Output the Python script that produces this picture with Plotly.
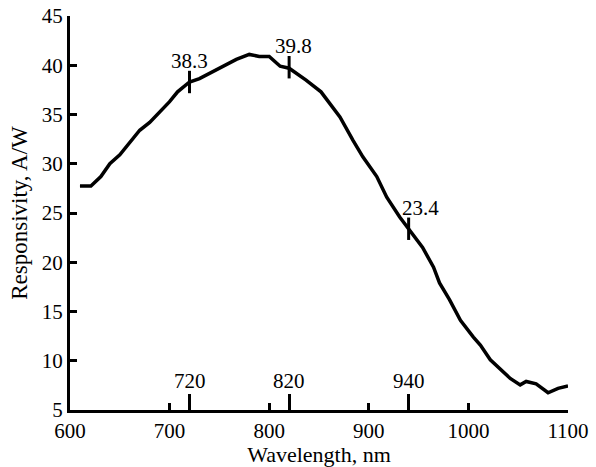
import plotly.graph_objects as go

wavelength = [610, 621, 631, 640, 650, 660, 670, 680, 690, 700, 708, 720, 730, 740, 754, 767,
              780, 790, 800, 811, 820, 837, 852, 871, 884, 894, 908, 918, 931, 940, 954, 965,
              971, 981, 992, 1005, 1012, 1022, 1032, 1042, 1052, 1058, 1068, 1080, 1090, 1100]
responsivity = [27.75, 27.75, 28.7, 30.0, 30.9, 32.2, 33.4, 34.2, 35.25, 36.3, 37.3, 38.3, 38.65,
                39.2, 39.9, 40.6, 41.1, 40.9, 40.9, 39.9, 39.7, 38.5, 37.3, 34.75, 32.4, 30.7,
                28.7, 26.6, 24.6, 23.4, 21.5, 19.5, 17.9, 16.2, 14.1, 12.4, 11.6, 10.1, 9.1, 8.2,
                7.55, 7.9, 7.65, 6.75, 7.2, 7.45]

mark_x = [720, 820, 940]
mark_y = [38.3, 39.8, 23.4]
mark_text = ["38.3", "39.8", "23.4"]
mark_xshift = [0, 4, 12]

x_ticks = [600, 700, 800, 900, 1000, 1100]
y_ticks = [5, 10, 15, 20, 25, 30, 35, 40, 45]
special_ticks = [720, 820, 940]

FONT = "Liberation Serif"

fig = go.Figure()
fig.add_trace(go.Scatter(x=wavelength, y=responsivity, mode="lines",
                         line=dict(color="black", width=3.5), showlegend=False,
                         hoverinfo="skip"))
fig.add_trace(go.Scatter(x=mark_x, y=mark_y, mode="markers",
                         marker=dict(symbol="line-ns", size=16,
                                     line=dict(color="black", width=3)),
                         showlegend=False, hoverinfo="skip"))
# invisible trace to activate secondary x-axis (long wavelength ticks)
fig.add_trace(go.Scatter(x=special_ticks, y=[None] * len(special_ticks), xaxis="x2",
                         mode="markers", showlegend=False, hoverinfo="skip"))

for x, y, t, s in zip(mark_x, mark_y, mark_text, mark_xshift):
    fig.add_annotation(x=x, y=y, text=t, showarrow=False, xshift=s, yshift=21,
                       font=dict(family=FONT, size=21, color="black"))

for v in special_ticks:
    fig.add_annotation(x=v, y=0, yref="paper", text=str(v), showarrow=False,
                       yanchor="bottom", yshift=15,
                       font=dict(family=FONT, size=21, color="black"))

fig.update_layout(
    width=596, height=467,
    margin=dict(l=70, r=28, t=16, b=57),
    paper_bgcolor="white", plot_bgcolor="white",
    font=dict(family=FONT, size=20, color="black"),
    xaxis=dict(range=[600, 1100], tickvals=x_ticks, ticks="inside", ticklen=7,
               tickwidth=3, tickcolor="black", showline=True, linewidth=3,
               linecolor="black", showgrid=False, zeroline=False, automargin=False,
               title=dict(text="Wavelength, nm", standoff=0,
                          font=dict(family=FONT, size=22, color="black")),
               tickfont=dict(family=FONT, size=21, color="black")),
    xaxis2=dict(range=[600, 1100], overlaying="x", side="bottom", anchor="y",
                tickvals=special_ticks, showticklabels=False,
                ticks="inside", ticklen=16, tickwidth=3, tickcolor="black",
                showline=False, showgrid=False, zeroline=False, automargin=False),
    yaxis=dict(range=[5, 45], tickvals=y_ticks, ticks="inside", ticklen=7,
               tickwidth=3, tickcolor="black", showline=True, linewidth=3,
               linecolor="black", showgrid=False, zeroline=False, automargin=False,
               title=dict(text="Responsivity, A/W", standoff=8,
                          font=dict(family=FONT, size=23, color="black")),
               tickfont=dict(family=FONT, size=21, color="black")),
)

fig.write_html("out.html", config={"displayModeBar": False},
               post_script="document.body.style.margin='0';document.body.style.overflow='hidden';")
